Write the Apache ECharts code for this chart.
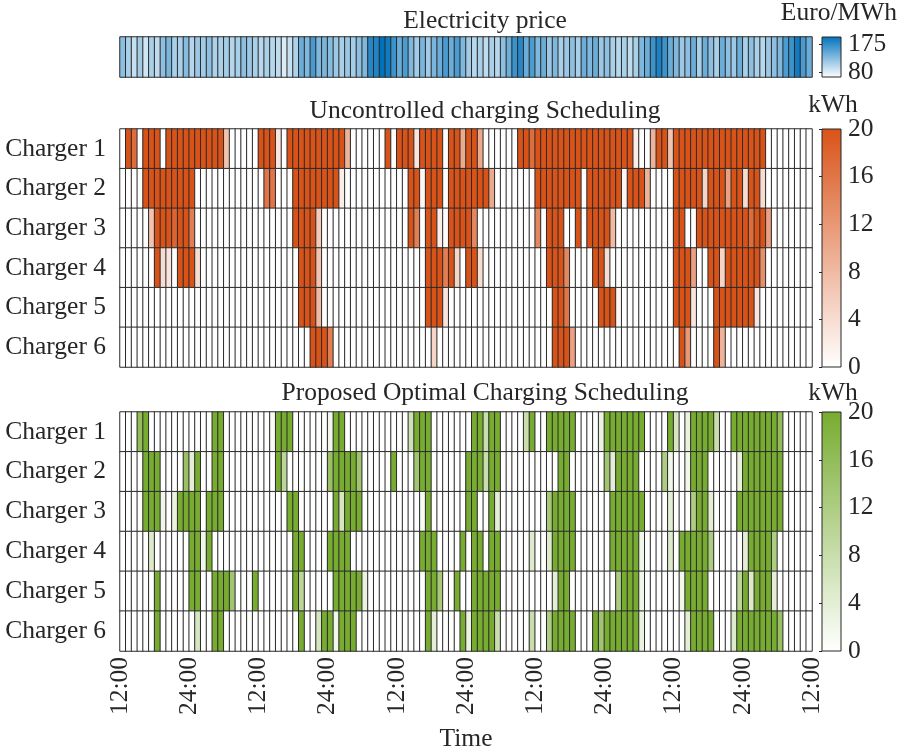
<!DOCTYPE html>
<html>
<head>
<meta charset="utf-8">
<script src="https://cdn.jsdelivr.net/npm/echarts@6/dist/echarts.min.js"></script>
<style>html,body{margin:0;padding:0;background:#fff}#c{width:897px;height:749px}</style>
</head>
<body>
<div id="c"></div>
<script>
// ---------- DATA ----------
const timeTickLabels = ['12:00','24:00','12:00','24:00','12:00','24:00','12:00','24:00','12:00','24:00','12:00'];
const chargers = ['Charger 1','Charger 2','Charger 3','Charger 4','Charger 5','Charger 6'];

// Electricity price (Euro/MWh), 120 hourly values
const price = [
123,112,101,115,97,112,104,123,130,112,
112,125,108,117,115,123,110,112,114,108,
112,123,117,112,107,112,107,104,93,101,
110,135,128,148,128,130,125,117,112,117,
114,123,128,160,163,175,169,153,135,147,
128,115,130,115,130,135,148,135,147,128,
115,107,112,104,112,107,123,135,153,160,
135,147,128,135,117,128,112,117,123,112,
135,128,135,117,123,112,107,112,104,112,
128,135,153,165,153,135,128,117,123,135,
112,135,123,112,135,123,117,135,112,123,
112,107,117,123,128,147,153,169,148,135];

// Uncontrolled charging (kWh)
const unc1 = [
0,20,17,0,20,20,20,0,20,20, 20,20,20,20,20,20,20,20,7,0,
0,0,0,0,20,20,20,3,0,20, 20,20,20,20,20,20,20,20,20,9,
0,0,0,0,0,0,20,0,20,20, 20,3,20,20,20,20,0,20,20,10,
20,20,10,0,0,0,0,0,0,20, 20,17,20,20,20,20,20,20,20,20,
20,20,20,20,20,20,20,20,20,2, 0,0,9,20,20,7,20,20,20,20,
20,20,20,20,20,20,20,20,20,20, 20,20,0,0,0,0,0,0,0,0];
const unc2 = [
0,0,0,0,20,20,20,20,20,20, 20,20,20,0,0,0,0,0,0,0,
0,0,0,0,0,16,16,0,0,0, 20,20,20,20,20,20,20,20,2,0,
0,0,0,0,0,0,0,0,0,0, 20,20,1,20,20,20,0,20,20,20,
20,20,20,20,10,0,0,0,0,0, 0,0,20,20,20,20,20,20,20,20,
0,20,20,20,20,20,20,1,20,20, 20,9,0,0,0,0,20,20,20,20,
20,5,20,20,20,11,20,20,4,20, 20,4,0,0,0,0,0,0,0,0];
const unc3 = [
0,0,0,0,0,7,20,20,20,18, 20,20,15,0,0,0,0,0,0,0,
0,0,0,0,0,0,0,0,0,0, 20,20,20,20,6,0,0,0,0,0,
0,0,0,0,0,0,0,0,0,0, 20,15,0,20,20,2,0,20,20,20,
20,14,0,0,0,0,0,0,0,0, 0,0,14,0,20,20,20,0,0,20,
0,20,20,20,20,8,0,0,0,0, 0,0,0,0,0,0,20,20,0,0,
20,20,20,20,20,20,20,20,20,17, 20,20,11,0,0,0,0,0,0,0];
const unc4 = [
0,0,0,0,0,0,20,4,3,0, 20,20,20,4,0,0,0,0,0,0,
0,0,0,0,0,0,0,0,0,0, 0,20,20,20,7,0,0,0,0,0,
0,0,0,0,0,0,0,0,0,0, 0,0,0,20,20,20,15,20,5,0,
20,20,4,0,0,0,0,0,0,0, 0,0,0,0,20,20,20,14,0,0,
0,0,20,20,4,0,0,0,0,0, 0,0,0,0,0,0,20,20,20,11,
0,0,20,20,5,20,20,20,20,20, 20,13,0,0,0,0,0,0,0,0];
const unc5 = [
0,0,0,0,0,0,0,0,0,0, 0,0,0,0,0,0,0,0,0,0,
0,0,0,0,0,0,0,0,0,0, 0,20,20,20,8,0,0,0,0,0,
0,0,0,0,0,0,0,0,0,0, 0,0,0,20,20,20,3,0,0,0,
0,0,0,0,0,0,0,0,0,0, 0,0,0,0,0,20,20,16,0,0,
0,0,0,20,20,20,1,0,0,0, 0,0,0,0,0,0,20,20,20,3,
0,0,0,20,20,20,20,20,20,20, 3,0,0,0,0,0,0,0,0,0];
const unc6 = [
0,0,0,0,0,0,0,0,0,0, 0,0,0,0,0,0,0,0,0,0,
0,0,0,0,0,0,0,0,0,0, 0,0,0,20,20,20,15,0,0,0,
0,0,0,0,0,0,0,0,0,0, 0,0,0,0,5,0,0,0,0,0,
0,0,0,0,0,0,0,0,0,0, 0,0,0,0,0,20,20,20,11,0,
0,0,0,0,0,0,0,0,0,0, 0,0,0,0,0,0,0,20,12,0,
0,0,0,20,9,0,0,0,0,0, 0,0,0,0,0,0,0,0,0,0];

// Proposed optimal charging (kWh)
const opt1 = [
0,0,0,16,20,0,0,0,0,0, 0,0,0,0,0,0,20,20,0,0,
0,0,0,0,0,0,1,20,20,20, 0,0,0,0,0,0,2,20,20,0,
0,0,0,0,0,0,0,0,0,0, 7,20,20,20,0,0,0,0,0,0,
0,20,20,8,20,20,0,0,0,0, 8,20,0,0,20,20,20,20,20,0,
0,0,0,3,20,20,20,20,20,20, 20,0,0,0,0,20,6,0,3,20,
20,20,20,8,0,0,20,20,20,20, 20,20,20,20,16,0,0,0,0,0];
const opt2 = [
0,0,0,0,20,20,20,0,0,0, 0,15,4,20,0,0,20,20,0,0,
0,0,0,0,0,0,0,20,10,0, 0,0,0,0,0,0,15,20,20,20,
20,14,0,0,0,0,0,20,0,0, 0,14,20,20,0,0,0,0,0,0,
20,20,20,8,20,20,0,0,0,0, 0,0,0,0,0,0,20,20,0,0,
0,0,0,0,14,4,20,20,20,20, 0,0,0,0,12,2,0,0,2,20,
20,20,0,0,0,0,0,3,20,20, 20,20,20,20,20,0,0,0,0,0];
const opt3 = [
0,0,0,0,20,20,20,2,0,3, 20,20,20,20,0,20,20,20,0,0,
0,0,0,0,0,0,0,0,0,20, 20,0,0,0,0,0,0,20,6,20,
20,20,0,0,0,0,0,0,0,0, 0,0,1,20,0,0,0,0,0,0,
20,20,0,0,20,4,0,0,0,0, 0,0,0,0,13,20,20,20,20,0,
0,0,0,0,0,20,20,20,20,20, 20,0,0,0,0,4,0,0,0,12,
20,20,4,0,0,0,0,20,20,20, 20,20,20,20,20,0,0,0,0,0];
const opt4 = [
0,0,0,0,0,5,0,0,0,0, 0,0,20,20,2,20,0,0,0,0,
0,0,0,0,0,0,0,0,0,0, 20,20,0,0,0,0,20,20,20,20,
0,0,0,0,0,0,0,0,0,0, 0,0,20,20,20,0,0,0,0,20,
0,20,20,0,20,20,0,0,0,0, 0,5,0,0,5,20,20,20,20,0,
0,0,0,0,0,20,20,20,20,20, 2,0,0,0,0,5,0,20,20,20,
20,20,12,0,0,0,0,0,4,20, 20,20,20,12,0,0,0,0,0,0];
const opt5 = [
0,0,0,0,0,0,20,0,0,0, 0,0,20,20,0,0,20,20,20,14,
0,0,0,20,0,0,0,0,0,0, 20,10,0,0,0,0,0,20,20,20,
20,20,3,0,0,0,0,0,0,0, 0,0,0,20,20,13,0,0,20,0,
0,20,20,20,20,20,0,0,0,0, 0,0,0,0,0,4,20,20,0,0,
0,0,0,0,0,0,12,20,20,20, 2,0,0,0,0,0,0,2,20,20,
20,20,0,0,0,0,0,10,20,5, 20,20,20,4,0,0,0,0,0,0];
const opt6 = [
0,0,0,0,0,0,20,0,0,0, 0,0,0,6,0,0,20,20,0,0,
0,0,0,0,0,0,0,0,0,0, 0,20,0,0,6,20,20,2,20,20,
20,0,0,0,0,0,0,0,0,0, 0,0,0,20,4,0,0,0,0,20,
3,20,20,20,20,8,0,0,0,0, 0,8,0,0,12,20,20,20,20,0,
0,0,20,14,20,20,20,20,20,20, 3,0,0,0,0,0,0,0,4,20,
20,20,20,0,0,0,5,20,20,20, 20,20,20,20,15,0,0,0,0,0];

const uncontrolled = [unc1, unc2, unc3, unc4, unc5, unc6];
const optimal = [opt1, opt2, opt3, opt4, opt5, opt6];

// ---------- BUILD ----------
const hourCats = price.map((_, i) => String(i));
function toCells(rows) {
  const out = [];
  rows.forEach((row, r) => row.forEach((v, c) => out.push([c, r, v])));
  return out;
}
const priceCells = price.map((v, c) => [c, 0, v]);

const FONT = 'Liberation Serif';
const TXT = '#262626';
const FS = 25.5;

const L = 120, W = 692;
const OB = {outerBoundsMode: 'none', containLabel: false};
const gridPrice = Object.assign({left: L, top: 37, width: W, height: 40}, OB);
const gridUnc = Object.assign({left: L, top: 129, width: W, height: 238}, OB);
const gridOpt = Object.assign({left: L, top: 412, width: W, height: 239}, OB);
const CBL = 822, CBW = 19;

function grad(c) {
  return new echarts.graphic.LinearGradient(0, 0, 0, 1, [{offset: 0, color: c}, {offset: 1, color: '#ffffff'}]);
}

const chart = echarts.init(document.getElementById('c'), null, {renderer: 'canvas'});

const cellStyle = {borderColor: '#2a2a2a', borderWidth: 1};
const yCat = (gi) => ({
  gridIndex: gi, type: 'category', data: chargers, inverse: true,
  axisLine: {show: false}, axisTick: {show: false}, splitLine: {show: false},
  axisLabel: {fontFamily: FONT, fontSize: FS, color: TXT, margin: 14}
});
const cbAxis = (gi, min, max, ticks) => ({
  gridIndex: gi, type: 'value', position: 'right', min: min, max: max,
  axisLine: {show: false}, splitLine: {show: false},
  axisTick: {show: true, inside: true, length: 3, lineStyle: {color: TXT}, customValues: ticks},
  axisLabel: {fontFamily: FONT, fontSize: FS, color: TXT, margin: 7, customValues: ticks}
});
const cbGrid = (top, h, c) => Object.assign({left: CBL, top: top, width: CBW, height: h, show: true,
  backgroundColor: grad(c), borderColor: TXT, borderWidth: 1}, OB);

chart.setOption({
  animation: false,
  backgroundColor: '#ffffff',
  grid: [
    gridPrice, gridUnc, gridOpt,
    cbGrid(37, 40, '#0072BD'),
    cbGrid(129, 238, '#D95319'),
    cbGrid(412, 239, '#77AC30')
  ],
  xAxis: [
    {gridIndex: 0, type: 'category', data: hourCats, show: false},
    {gridIndex: 1, type: 'category', data: hourCats, show: false},
    {gridIndex: 2, type: 'category', data: hourCats, show: false, position: 'top'},
    {gridIndex: 2, type: 'value', min: 0, max: 120, interval: 12, position: 'bottom',
      axisLine: {show: false}, axisTick: {show: false}, splitLine: {show: false},
      axisLabel: {rotate: 90, fontFamily: FONT, fontSize: FS, color: TXT, margin: 6, padding: [5, 0, 0, 0],
        formatter: (v) => timeTickLabels[Math.round(v / 12)]},
      name: 'Time', nameLocation: 'middle', nameGap: 75,
      nameTextStyle: {fontFamily: FONT, fontSize: FS, color: TXT}},
    {gridIndex: 3, type: 'value', show: false, min: 0, max: 1},
    {gridIndex: 4, type: 'value', show: false, min: 0, max: 1},
    {gridIndex: 5, type: 'value', show: false, min: 0, max: 1}
  ],
  yAxis: [
    {gridIndex: 0, type: 'category', data: [''], show: false},
    yCat(1), yCat(2),
    cbAxis(3, 63, 199, [80, 175]),
    cbAxis(4, 0, 20, [0, 4, 8, 12, 16, 20]),
    cbAxis(5, 0, 20, [0, 4, 8, 12, 16, 20])
  ],
  visualMap: [
    {show: false, seriesIndex: 0, min: 80, max: 175, inRange: {color: ['#ffffff', '#0072BD']}},
    {show: false, seriesIndex: 1, min: 0, max: 20, inRange: {color: ['#ffffff', '#D95319']}},
    {show: false, seriesIndex: 2, min: 0, max: 20, inRange: {color: ['#ffffff', '#77AC30']}}
  ],
  series: [
    {type: 'heatmap', xAxisIndex: 0, yAxisIndex: 0, data: priceCells, itemStyle: cellStyle, silent: true, emphasis: {disabled: true}},
    {type: 'heatmap', xAxisIndex: 1, yAxisIndex: 1, data: toCells(uncontrolled), itemStyle: cellStyle, silent: true, emphasis: {disabled: true}},
    {type: 'heatmap', xAxisIndex: 2, yAxisIndex: 2, data: toCells(optimal), itemStyle: cellStyle, silent: true, emphasis: {disabled: true}}
  ],
  graphic: [
    {type: 'text', x: 485, y: 21, style: {text: 'Electricity price', textAlign: 'center', textVerticalAlign: 'middle', fontFamily: FONT, fontSize: FS, fill: TXT}},
    {type: 'text', x: 485, y: 111, style: {text: 'Uncontrolled charging Scheduling', textAlign: 'center', textVerticalAlign: 'middle', fontFamily: FONT, fontSize: FS, fill: TXT}},
    {type: 'text', x: 485, y: 393, style: {text: 'Proposed Optimal Charging Scheduling', textAlign: 'center', textVerticalAlign: 'middle', fontFamily: FONT, fontSize: FS, fill: TXT}},
    {type: 'text', x: 897, y: 13, style: {text: 'Euro/MWh', textAlign: 'right', textVerticalAlign: 'middle', fontFamily: FONT, fontSize: FS, fill: TXT}},
    {type: 'text', x: 833, y: 105, style: {text: 'kWh', textAlign: 'center', textVerticalAlign: 'middle', fontFamily: FONT, fontSize: FS, fill: TXT}},
    {type: 'text', x: 833, y: 393, style: {text: 'kWh', textAlign: 'center', textVerticalAlign: 'middle', fontFamily: FONT, fontSize: FS, fill: TXT}}
  ]
});
</script>
</body>
</html>
